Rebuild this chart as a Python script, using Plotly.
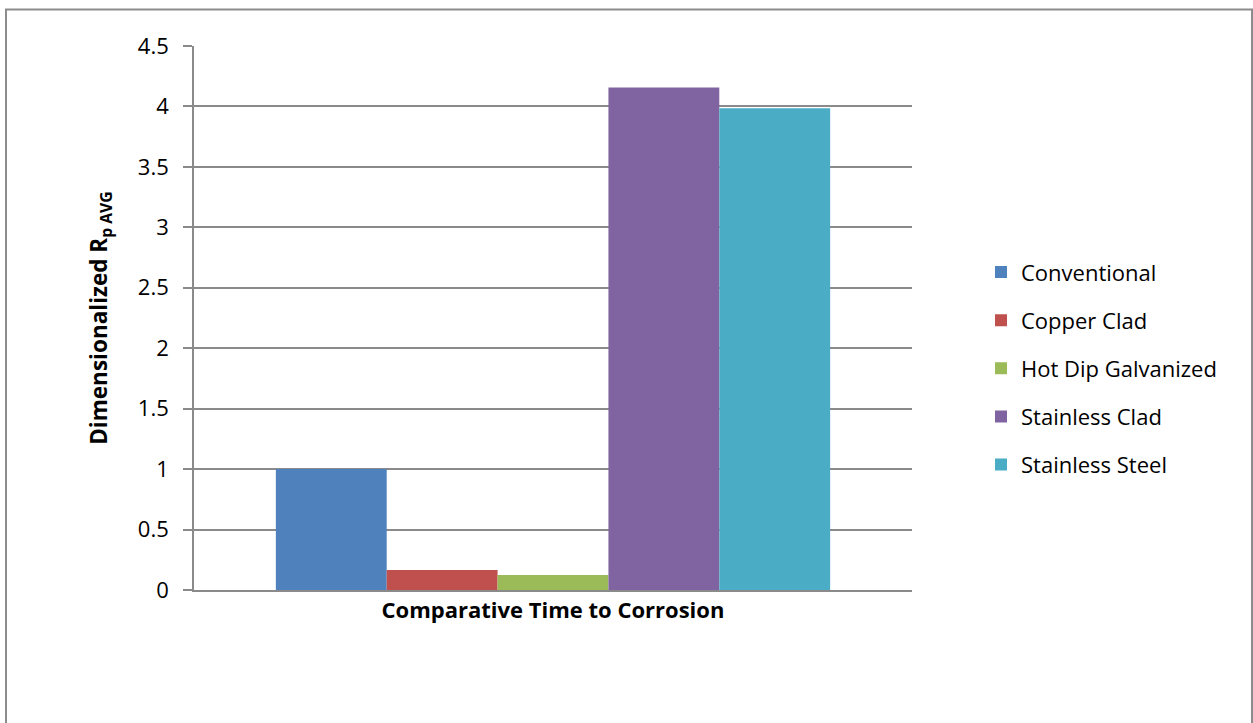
import plotly.graph_objects as go

# Dimensionalized average polarization resistance by reinforcement type
category = ["Comparative Time to Corrosion"]
series_names = ["Conventional", "Copper Clad", "Hot Dip Galvanized",
                "Stainless Clad", "Stainless Steel"]
series_values = [1.0, 0.165, 0.124, 4.157, 3.985]
series_colors = ["#4F81BD", "#C0504D", "#9BBB59", "#8064A2", "#4BACC6"]
y_ticks = [0, 0.5, 1, 1.5, 2, 2.5, 3, 3.5, 4, 4.5]
y_tick_text = ["0", "0.5", "1", "1.5", "2", "2.5", "3", "3.5", "4", "4.5"]

W, H = 1253, 723
L, R, T, B = 194, 341, 45.5, 133
FONT = "Open Sans"
GRID = "#8A8A8A"

fig = go.Figure()
for name, val, col in zip(series_names, series_values, series_colors):
    fig.add_trace(go.Bar(
        x=category, y=[val], name=name, marker_color=col,
        marker_line_width=0, legendgroup=name,
    ))

pw = W - L - R
ph = H - T - B


def px_x(p):
    return (p - L) / pw


def px_y(p):
    return (H - B - p) / ph


fig.update_layout(
    width=W, height=H,
    margin=dict(l=L, r=R, t=T, b=B, pad=0),
    paper_bgcolor="white", plot_bgcolor="white",
    barmode="group", bargap=0.228, bargroupgap=0,
    font=dict(family=FONT, size=22, color="black"),
    xaxis=dict(
        showticklabels=False, ticks="", showgrid=False,
        showline=True, linecolor=GRID, linewidth=1.6,
        title=dict(text="<b>Comparative Time to Corrosion</b>",
                   font=dict(size=22), standoff=12),
    ),
    yaxis=dict(
        range=[0, 4.5], tickvals=y_ticks, ticktext=y_tick_text,
        showgrid=True, gridcolor=GRID, gridwidth=1.6,
        showline=True, linecolor=GRID, linewidth=1.6,
        ticks="outside", ticklen=9, tickcolor=GRID, tickwidth=1.6,
        ticklabelstandoff=10, zeroline=False,
        tickfont=dict(size=22),
        title=dict(text="<b>Dimensionalized R<sub>p AVG</sub></b>",
                   font=dict(size=22.5), standoff=24),
    ),
    legend=dict(
        x=px_x(981), y=px_y(251), xanchor="left", yanchor="top",
        font=dict(size=22), traceorder="grouped",
        tracegroupgap=16.5, bgcolor="rgba(0,0,0,0)",
    ),
    showlegend=True,
)

# Chart-area border
fig.add_shape(
    type="rect", xref="paper", yref="paper",
    x0=px_x(6), x1=px_x(1252), y0=px_y(730), y1=px_y(9),
    line=dict(color="#8C8C8C", width=2), fillcolor="rgba(0,0,0,0)",
    layer="below",
)

fig.write_html("out.html")
